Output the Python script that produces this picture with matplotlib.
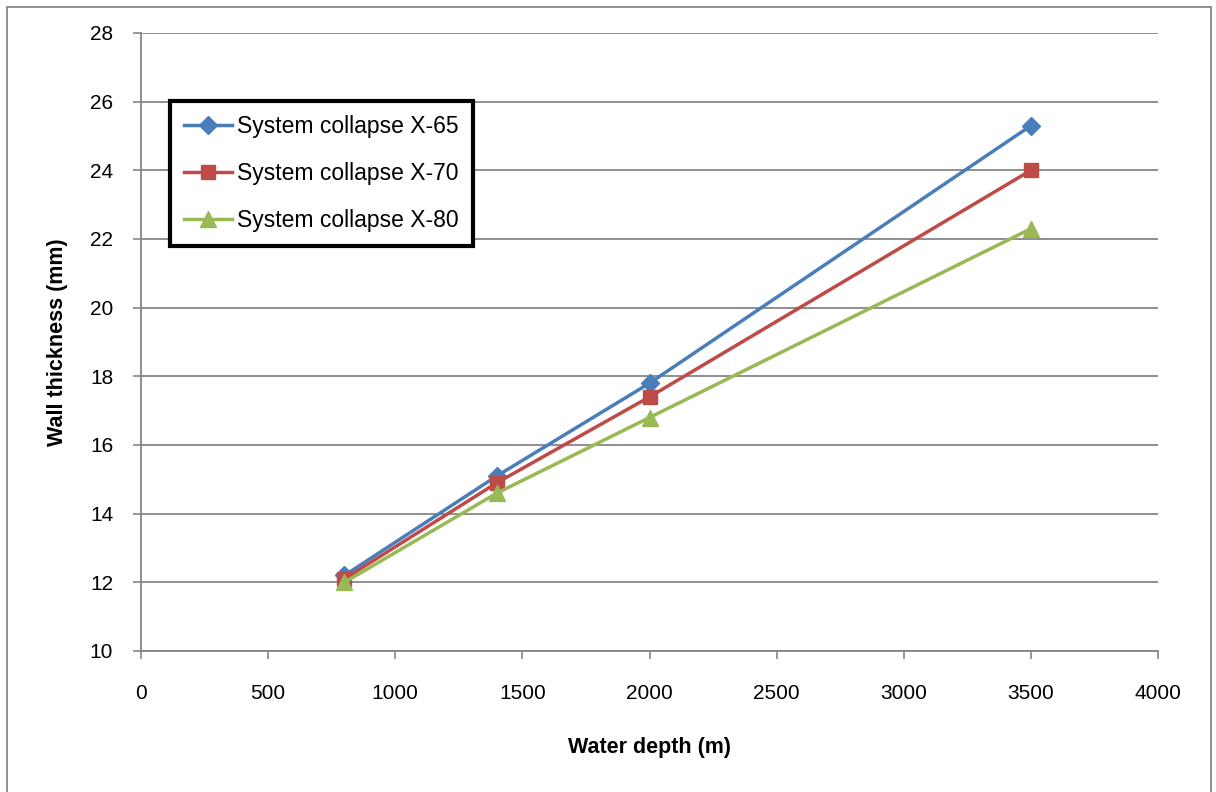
import matplotlib.pyplot as plt
from matplotlib.patches import Rectangle

plt.rcParams['font.family'] = ['Liberation Sans', 'DejaVu Sans']

# water depth (m) and wall thickness (mm) per steel grade
depth = [800, 1400, 2000, 3500]
x65 = [12.2, 15.1, 17.8, 25.3]
x70 = [12.1, 14.9, 17.4, 24.0]
x80 = [12.0, 14.6, 16.8, 22.3]

fig = plt.figure(figsize=(12.16, 7.92), dpi=100)
ax = fig.add_axes([141 / 1216, 1 - 651 / 792, 1017 / 1216, 618 / 792])

ax.plot(depth, x65, color='#4A7EBB', lw=2.5, marker='D', ms=9.5, label='System collapse X-65')
ax.plot(depth, x70, color='#BE4B48', lw=2.5, marker='s', ms=10, label='System collapse X-70')
ax.plot(depth, x80, color='#98B954', lw=2.5, marker='^', ms=11, label='System collapse X-80')

ax.set_xlim(0, 4000)
ax.set_ylim(10, 28)
ax.set_xticks(range(0, 4001, 500))
ax.set_yticks(range(10, 29, 2))
ax.grid(axis='y', color='#868686', lw=1.3)
ax.set_axisbelow(True)
for s in ['top', 'right']:
    ax.spines[s].set_visible(False)
for s in ['left', 'bottom']:
    ax.spines[s].set_color('#868686')
    ax.spines[s].set_linewidth(1.3)
ax.tick_params(axis='both', colors='#868686', labelcolor='black', labelsize=15,
               length=6, width=1.2, direction='out')
ax.tick_params(axis='x', pad=18)
ax.tick_params(axis='y', pad=14)

ax.set_xlabel('Water depth (m)', fontsize=15.5, fontweight='bold', labelpad=24)
ax.set_ylabel('Wall thickness (mm)', fontsize=15.5, fontweight='bold', labelpad=16)

leg = ax.legend(loc='upper left', bbox_to_anchor=(29 / 1017, 1 - 68 / 618), fontsize=16.5,
                frameon=True, fancybox=False, framealpha=1, handlelength=2.1,
                borderpad=0.62, labelspacing=1.04, handletextpad=0.2, borderaxespad=0)
leg.get_frame().set_edgecolor('black')
leg.get_frame().set_linewidth(3)

fig.patches.append(Rectangle((7 / 1216, -0.1), 1204 / 1216, 1.1 - 7 / 792,
                             transform=fig.transFigure, fill=False,
                             edgecolor='#868686', lw=1.3))

fig.savefig('out.png', dpi=100)
